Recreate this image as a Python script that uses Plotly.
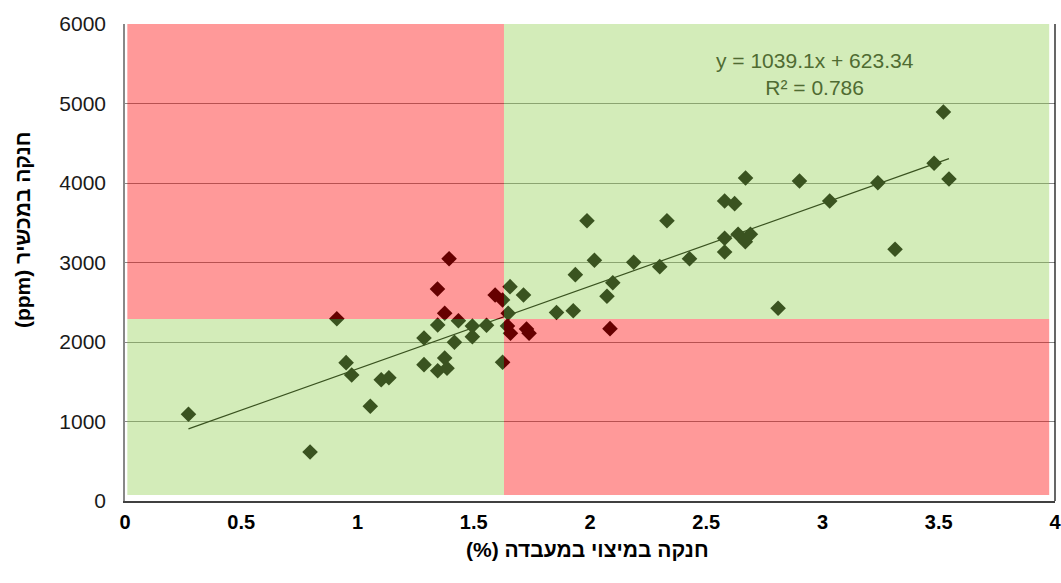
import plotly.graph_objects as go

# ---- data ----
x_lab = [0.273, 0.796, 0.911, 0.951, 0.975, 1.055, 1.102, 1.135, 1.286, 1.286,
         1.345, 1.345, 1.375, 1.385, 1.417, 1.434, 1.494, 1.494, 1.555, 1.624,
         1.656, 1.714, 1.648, 1.856, 1.928, 1.937, 1.987, 2.019, 2.073, 2.098,
         2.188, 2.300, 2.331, 2.428, 2.579, 2.579, 2.579, 2.622, 2.637, 2.668,
         2.690, 2.669, 2.809, 2.901, 3.031, 3.238, 3.312, 3.480, 3.520, 3.544,
         1.344, 1.375, 1.394, 1.592, 1.645, 1.658, 1.727, 1.738, 1.624, 2.086]
y_dev = [1091, 616, 2293, 1740, 1585, 1191, 1526, 1551, 2051, 1715,
         2214, 1639, 1799, 1669, 1996, 2268, 2202, 2067, 2210, 2529,
         2696, 2591, 2361, 2371, 2394, 2847, 3526, 3028, 2575, 2746,
         3003, 2948, 3526, 3048, 3774, 3305, 3132, 3740, 3355, 3262,
         3355, 4063, 2424, 4026, 3774, 4004, 3166, 4248, 4894, 4051,
         2667, 2361, 3048, 2591, 2202, 2110, 2164, 2110, 1745, 2168]

slope = 1039.1
intercept = 623.34
r2 = 0.786

x_threshold = 1.63
y_threshold = 2290
zone_x = [0.01, 3.975]
zone_y = [75, 6000]

x_ticks = [0, 0.5, 1, 1.5, 2, 2.5, 3, 3.5, 4]
y_ticks = [0, 1000, 2000, 3000, 4000, 5000, 6000]

RLE, PDF = "\u202b", "\u202c"
x_title = RLE + "חנקה במיצוי במעבדה (%)" + PDF
y_title = RLE + "חנקה במכשיר (ppm)" + PDF

FONT = "Arial, 'Liberation Sans', sans-serif"

fig = go.Figure()

fig.add_trace(go.Scatter(
    x=x_lab, y=y_dev, mode="markers",
    marker=dict(symbol="diamond", size=12, color="#000000", line=dict(width=0)),
    showlegend=False, hoverinfo="x+y"))

tx = [min(x_lab), max(x_lab)]
ty = [slope * v + intercept for v in tx]
fig.add_trace(go.Scatter(x=tx, y=ty, mode="lines",
                         line=dict(color="#000000", width=1.2),
                         showlegend=False, hoverinfo="skip"))

red = "#FF0000"
green = "#92D050"
zones = [
    (zone_x[0], x_threshold, y_threshold, zone_y[1], red),
    (zone_x[0], x_threshold, zone_y[0], y_threshold, green),
    (x_threshold, zone_x[1], y_threshold, zone_y[1], green),
    (x_threshold, zone_x[1], zone_y[0], y_threshold, red),
]
for x0, x1, y0, y1, c in zones:
    fig.add_shape(type="rect", xref="x", yref="y", x0=x0, x1=x1, y0=y0, y1=y1,
                  fillcolor=c, opacity=0.4, line=dict(width=0), layer="above")

# right border of plot area
fig.add_shape(type="line", xref="paper", yref="paper", x0=1, x1=1, y0=0, y1=1,
              line=dict(color="#000000", width=1.2), layer="above")

fig.add_annotation(x=2.968, y=5366, xref="x", yref="y",
                   text=f"y = {slope}x + {intercept}<br>R² = {r2}",
                   showarrow=False, align="center",
                   font=dict(family=FONT, size=21, color="#4F6B32"))

# axis titles
fig.add_annotation(x=0.497, y=0, xref="paper", yref="paper",
                   xanchor="center", yanchor="middle", yshift=-48,
                   text=x_title, showarrow=False,
                   font=dict(family=FONT, size=21, color="#000000", weight="bold"))
fig.add_annotation(x=0, y=0.568, xref="paper", yref="paper",
                   xanchor="center", yanchor="middle", xshift=-103,
                   text=y_title, textangle=-90, showarrow=False,
                   font=dict(family=FONT, size=21, color="#000000", weight="bold"))

fig.update_layout(
    width=1061, height=583,
    margin=dict(l=125, r=6, t=24, b=82),
    paper_bgcolor="white", plot_bgcolor="white",
    font=dict(family=FONT, color="#000000"),
    xaxis=dict(range=[0, 4], tickvals=x_ticks, showgrid=False, zeroline=False,
               showline=True, linecolor="#404040", linewidth=1.5,
               ticks="", ticklabelstandoff=2, automargin=False,
               ticklabeloverflow="allow",
               tickfont=dict(family=FONT, size=20, color="#000000", weight="bold")),
    yaxis=dict(range=[0, 6000], tickvals=y_ticks, tickformat="d",
               showgrid=True, gridcolor="#888888", gridwidth=1, zeroline=False,
               showline=True, linecolor="#888888", linewidth=1.5,
               ticks="", ticklabelstandoff=13, automargin=False,
               tickfont=dict(family=FONT, size=21, color="#1a1a1a")),
)

fig.write_html("out.html",
               config={"displayModeBar": False},
               post_script="document.body.style.margin='0';document.body.style.padding='0';")
